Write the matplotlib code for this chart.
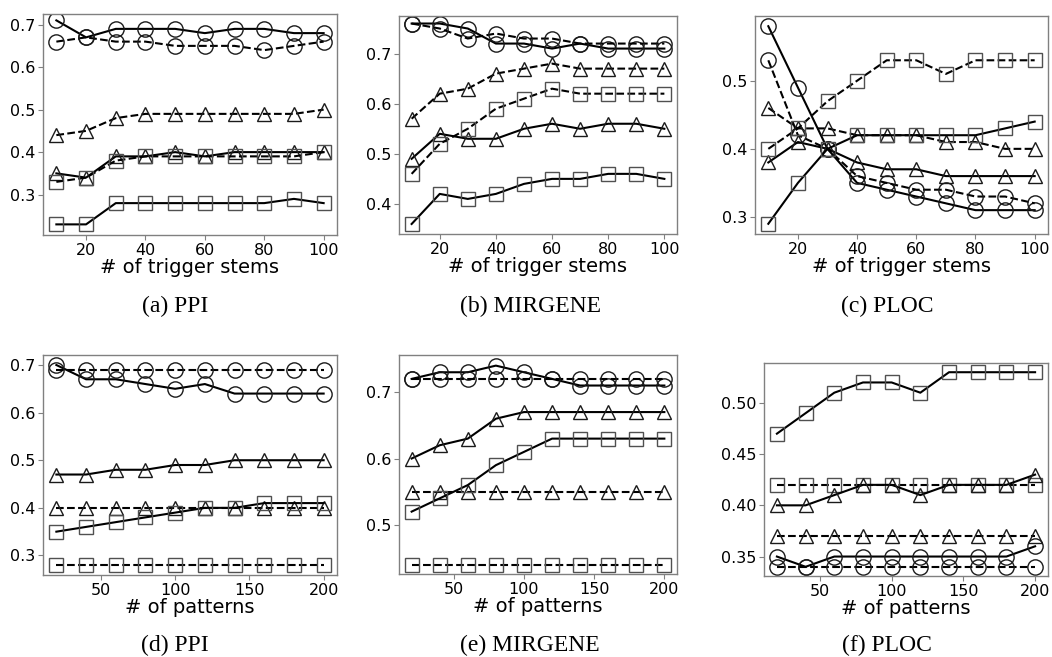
import matplotlib
matplotlib.use("Agg")
import matplotlib.pyplot as plt
from matplotlib.ticker import FormatStrFormatter

W, H = 1052, 657

x_stems = [10, 20, 30, 40, 50, 60, 70, 80, 90, 100]
x_pat = [20, 40, 60, 80, 100, 120, 140, 160, 180, 200]

# (a) PPI vs trigger stems
a_circ_solid = [0.71, 0.67, 0.69, 0.69, 0.69, 0.68, 0.69, 0.69, 0.68, 0.68]
a_circ_dash = [0.66, 0.67, 0.66, 0.66, 0.65, 0.65, 0.65, 0.64, 0.65, 0.66]
a_tri_dash = [0.44, 0.45, 0.48, 0.49, 0.49, 0.49, 0.49, 0.49, 0.49, 0.50]
a_tri_solid = [0.35, 0.34, 0.39, 0.39, 0.40, 0.39, 0.40, 0.40, 0.40, 0.40]
a_sq_dash = [0.33, 0.34, 0.38, 0.39, 0.39, 0.39, 0.39, 0.39, 0.39, 0.40]
a_sq_solid = [0.23, 0.23, 0.28, 0.28, 0.28, 0.28, 0.28, 0.28, 0.29, 0.28]

# (b) MIRGENE vs trigger stems
b_circ_solid = [0.76, 0.76, 0.75, 0.72, 0.72, 0.71, 0.72, 0.71, 0.71, 0.71]
b_circ_dash = [0.76, 0.75, 0.73, 0.74, 0.73, 0.73, 0.72, 0.72, 0.72, 0.72]
b_tri_dash = [0.57, 0.62, 0.63, 0.66, 0.67, 0.68, 0.67, 0.67, 0.67, 0.67]
b_tri_solid = [0.49, 0.54, 0.53, 0.53, 0.55, 0.56, 0.55, 0.56, 0.56, 0.55]
b_sq_dash = [0.46, 0.52, 0.55, 0.59, 0.61, 0.63, 0.62, 0.62, 0.62, 0.62]
b_sq_solid = [0.36, 0.42, 0.41, 0.42, 0.44, 0.45, 0.45, 0.46, 0.46, 0.45]

# (c) PLOC vs trigger stems
c_circ_solid = [0.58, 0.49, 0.40, 0.35, 0.34, 0.33, 0.32, 0.31, 0.31, 0.31]
c_circ_dash = [0.53, 0.42, 0.40, 0.36, 0.35, 0.34, 0.34, 0.33, 0.33, 0.32]
c_tri_dash = [0.46, 0.43, 0.43, 0.42, 0.42, 0.42, 0.41, 0.41, 0.40, 0.40]
c_tri_solid = [0.38, 0.41, 0.40, 0.38, 0.37, 0.37, 0.36, 0.36, 0.36, 0.36]
c_sq_dash = [0.40, 0.43, 0.47, 0.50, 0.53, 0.53, 0.51, 0.53, 0.53, 0.53]
c_sq_solid = [0.29, 0.35, 0.40, 0.42, 0.42, 0.42, 0.42, 0.42, 0.43, 0.44]

# (d) PPI vs patterns
d_circ_solid = [0.70, 0.67, 0.67, 0.66, 0.65, 0.66, 0.64, 0.64, 0.64, 0.64]
d_circ_dash = [0.69, 0.69, 0.69, 0.69, 0.69, 0.69, 0.69, 0.69, 0.69, 0.69]
d_tri_solid = [0.47, 0.47, 0.48, 0.48, 0.49, 0.49, 0.50, 0.50, 0.50, 0.50]
d_tri_dash = [0.40, 0.40, 0.40, 0.40, 0.40, 0.40, 0.40, 0.40, 0.40, 0.40]
d_sq_solid = [0.35, 0.36, 0.37, 0.38, 0.39, 0.40, 0.40, 0.41, 0.41, 0.41]
d_sq_dash = [0.28, 0.28, 0.28, 0.28, 0.28, 0.28, 0.28, 0.28, 0.28, 0.28]

# (e) MIRGENE vs patterns
e_circ_solid = [0.72, 0.73, 0.73, 0.74, 0.73, 0.72, 0.71, 0.71, 0.71, 0.71]
e_circ_dash = [0.72, 0.72, 0.72, 0.72, 0.72, 0.72, 0.72, 0.72, 0.72, 0.72]
e_tri_solid = [0.60, 0.62, 0.63, 0.66, 0.67, 0.67, 0.67, 0.67, 0.67, 0.67]
e_tri_dash = [0.55, 0.55, 0.55, 0.55, 0.55, 0.55, 0.55, 0.55, 0.55, 0.55]
e_sq_solid = [0.52, 0.54, 0.56, 0.59, 0.61, 0.63, 0.63, 0.63, 0.63, 0.63]
e_sq_dash = [0.44, 0.44, 0.44, 0.44, 0.44, 0.44, 0.44, 0.44, 0.44, 0.44]

# (f) PLOC vs patterns
f_sq_solid = [0.47, 0.49, 0.51, 0.52, 0.52, 0.51, 0.53, 0.53, 0.53, 0.53]
f_sq_dash = [0.42, 0.42, 0.42, 0.42, 0.42, 0.42, 0.42, 0.42, 0.42, 0.42]
f_tri_solid = [0.40, 0.40, 0.41, 0.42, 0.42, 0.41, 0.42, 0.42, 0.42, 0.43]
f_tri_dash = [0.37, 0.37, 0.37, 0.37, 0.37, 0.37, 0.37, 0.37, 0.37, 0.37]
f_circ_solid = [0.35, 0.34, 0.35, 0.35, 0.35, 0.35, 0.35, 0.35, 0.35, 0.36]
f_circ_dash = [0.34, 0.34, 0.34, 0.34, 0.34, 0.34, 0.34, 0.34, 0.34, 0.34]

captions = ["(a) PPI", "(b) MIRGENE", "(c) PLOC", "(d) PPI", "(e) MIRGENE", "(f) PLOC"]
xlabels = ["# of trigger stems"] * 3 + ["# of patterns"] * 3

fig = plt.figure(figsize=(W / 100, H / 100), dpi=100)


def px_axes(l, t, r, b):
    return fig.add_axes([l / W, 1 - b / H, (r - l) / W, (b - t) / H])


def draw(ax, x, series, xlabel, yticks, yfmt, ylim, xlim):
    for vals, marker, ls in series:
        ec = "#505050" if marker == "s" else "#1a1a1a"
        ax.plot(x, vals, linestyle=ls, color="black", linewidth=1.5,
                marker=marker, markersize=11 if marker == "o" else 10.5,
                markerfacecolor="none", markeredgecolor=ec, markeredgewidth=1.0)
    ax.set_yticks(yticks)
    ax.yaxis.set_major_formatter(FormatStrFormatter(yfmt))
    ax.set_ylim(*ylim)
    ax.set_xlim(*xlim)
    ax.set_xlabel(xlabel, fontsize=14, labelpad=0)
    ax.tick_params(labelsize=11.5, color="#808080", length=3.5, width=0.8, pad=2)
    for s in ax.spines.values():
        s.set_color("#808080")
        s.set_linewidth(1.0)


axa = px_axes(43, 14, 337, 235)
draw(axa, x_stems, [(a_circ_solid, "o", "-"), (a_circ_dash, "o", "--"),
                    (a_tri_dash, "^", "--"), (a_tri_solid, "^", "-"),
                    (a_sq_dash, "s", "--"), (a_sq_solid, "s", "-")],
     xlabels[0], [0.3, 0.4, 0.5, 0.6, 0.7], "%.1f", (0.205, 0.725), (5.5, 104.5))

axb = px_axes(399, 16, 677, 234)
draw(axb, x_stems, [(b_circ_solid, "o", "-"), (b_circ_dash, "o", "--"),
                    (b_tri_dash, "^", "--"), (b_tri_solid, "^", "-"),
                    (b_sq_dash, "s", "--"), (b_sq_solid, "s", "-")],
     xlabels[1], [0.4, 0.5, 0.6, 0.7], "%.1f", (0.340, 0.775), (5.5, 104.5))

axc = px_axes(755, 16, 1048, 234)
draw(axc, x_stems, [(c_circ_solid, "o", "-"), (c_circ_dash, "o", "--"),
                    (c_tri_dash, "^", "--"), (c_tri_solid, "^", "-"),
                    (c_sq_dash, "s", "--"), (c_sq_solid, "s", "-")],
     xlabels[2], [0.3, 0.4, 0.5], "%.1f", (0.275, 0.595), (5.5, 104.5))

axd = px_axes(43, 355, 337, 575)
draw(axd, x_pat, [(d_circ_solid, "o", "-"), (d_circ_dash, "o", "--"),
                  (d_tri_solid, "^", "-"), (d_tri_dash, "^", "--"),
                  (d_sq_solid, "s", "-"), (d_sq_dash, "s", "--")],
     xlabels[3], [0.3, 0.4, 0.5, 0.6, 0.7], "%.1f", (0.259, 0.721), (11, 209))

axe = px_axes(399, 355, 677, 574)
draw(axe, x_pat, [(e_circ_solid, "o", "-"), (e_circ_dash, "o", "--"),
                  (e_tri_solid, "^", "-"), (e_tri_dash, "^", "--"),
                  (e_sq_solid, "s", "-"), (e_sq_dash, "s", "--")],
     xlabels[4], [0.5, 0.6, 0.7], "%.1f", (0.426, 0.756), (11, 209))

axf = px_axes(764, 363, 1048, 576)
draw(axf, x_pat, [(f_sq_solid, "s", "-"), (f_sq_dash, "s", "--"),
                  (f_tri_solid, "^", "-"), (f_tri_dash, "^", "--"),
                  (f_circ_solid, "o", "-"), (f_circ_dash, "o", "--")],
     xlabels[5], [0.35, 0.40, 0.45, 0.50], "%.2f", (0.331, 0.539), (11, 209))

cap_x = [175, 530, 887, 175, 530, 887]
cap_y = [306, 306, 306, 645, 645, 645]
for cx, cy, txt in zip(cap_x, cap_y, captions):
    fig.text(cx / W, 1 - cy / H, txt, ha="center", va="center",
             fontsize=17, family="Liberation Serif")

fig.savefig("out.png", dpi=100)
